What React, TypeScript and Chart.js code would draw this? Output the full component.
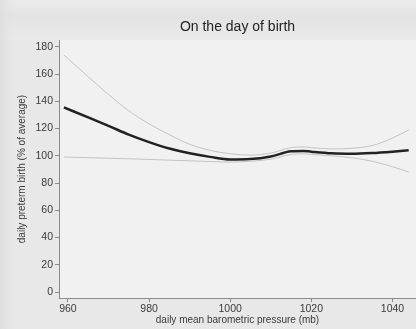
import React, { useEffect, useRef } from "react";
import { Chart, registerables } from "chart.js";

Chart.register(...registerables);

const pressure = [959, 965, 970, 975, 980, 985, 990, 995, 1000, 1005, 1010, 1015, 1018, 1020, 1025, 1030, 1035, 1040, 1044];
const estimate = [135.5, 128.2, 122, 115.5, 110, 105.3, 101.8, 99.2, 97.3, 97.6, 99.5, 103.3, 103.6, 103, 101.8, 101.5, 102, 103, 104];
const upperCI = [174, 158, 145, 133, 123.5, 115.5, 108.5, 104, 101.5, 100.5, 102, 106, 106.5, 106, 105, 105.5, 107.5, 113, 119];
const lowerCI = [99.1, 98.6, 98.2, 97.8, 97.3, 96.8, 96.3, 95.8, 95.4, 96, 97.5, 101, 101.5, 101, 100, 98.5, 96, 92, 88];
const xTicks = [960, 980, 1000, 1020, 1040];
const yTicks = [0, 20, 40, 60, 80, 100, 120, 140, 160, 180];
const titleText = "On the day of birth";
const xTitle = "daily mean barometric pressure (mb)";
const yTitle = "daily preterm birth (% of average)";

const FONT = "'Liberation Sans', Arial, sans-serif";

export default function App() {
  const ref = useRef<HTMLCanvasElement | null>(null);
  useEffect(() => {
    document.body.style.margin = "0";
    const canvas = ref.current!;
    const toPts = (ys: number[]) => pressure.map((x, i) => ({ x, y: ys[i] }));
    const bgPlugin = {
      id: "bg",
      beforeDraw(chart: any) {
        const { ctx, chartArea } = chart;
        ctx.save();
        ctx.fillStyle = "#e8e8e8";
        ctx.fillRect(0, 0, chart.width, chart.height);
        const g = ctx.createLinearGradient(0, 0, 0, 40);
        g.addColorStop(0, "#ececec");
        g.addColorStop(0.4, "#e3e3e3");
        g.addColorStop(1, "#eaeaea");
        ctx.fillStyle = g;
        ctx.fillRect(0, 0, chart.width, 40);
        const g2 = ctx.createLinearGradient(0, 0, 18, 0);
        g2.addColorStop(0, "#dedede");
        g2.addColorStop(1, "rgba(232,232,232,0)");
        ctx.fillStyle = g2;
        ctx.fillRect(0, 0, 18, chart.height);
        ctx.fillStyle = "#f1f1f1";
        ctx.fillRect(chartArea.left, chartArea.top, chartArea.right - chartArea.left, chartArea.bottom - chartArea.top);
        ctx.restore();
      },
      afterDraw(chart: any) {
        const { ctx, chartArea } = chart;
        ctx.save();
        ctx.fillStyle = "#222";
        ctx.font = `14px ${FONT}`;
        ctx.textAlign = "center";
        ctx.textBaseline = "middle";
        ctx.fillText(titleText, (chartArea.left + chartArea.right) / 2, 27);
        ctx.restore();
      },
    };
    const line = (ys: number[], color: string, width: number) => ({
      data: toPts(ys),
      borderColor: color,
      borderWidth: width,
      pointRadius: 0,
      cubicInterpolationMode: "monotone" as const,
      fill: false,
    });
    const chart = new Chart(canvas, {
      type: "line",
      data: {
        datasets: [
          line(upperCI, "#c4c4c4", 1),
          line(lowerCI, "#c4c4c4", 1),
          line(estimate, "#222222", 2.5),
        ],
      },
      options: {
        animation: false,
        responsive: false,
        layout: { padding: { left: 0, right: 0, top: 40, bottom: 0 } },
        plugins: { legend: { display: false }, tooltip: { enabled: false } },
        scales: {
          x: {
            type: "linear",
            min: 957.8,
            max: 1045.8,
            afterBuildTicks: (s: any) => { s.ticks = xTicks.map((v) => ({ value: v })); },
            afterFit: (s: any) => { s.height = 31; },
            grid: { display: true, drawOnChartArea: false, tickLength: 4, color: "#8a8a8a" },
            border: { color: "#8a8a8a", width: 1 },
            ticks: { color: "#3a3a3a", font: { family: FONT, size: 10.5 }, padding: 1, maxRotation: 0, autoSkip: false, callback: (v: any) => String(v) },
            title: { display: true, text: xTitle, color: "#3a3a3a", font: { family: FONT, size: 10 }, padding: { top: 0, bottom: 2.5 } },
          },
          y: {
            type: "linear",
            min: -4.4,
            max: 185,
            afterBuildTicks: (s: any) => { s.ticks = yTicks.map((v) => ({ value: v })); },
            afterFit: (s: any) => { s.width = 59; },
            grid: { display: true, drawOnChartArea: false, tickLength: 4, color: "#8a8a8a" },
            border: { color: "#8a8a8a", width: 1 },
            ticks: { color: "#3a3a3a", font: { family: FONT, size: 10.5 }, padding: 2, autoSkip: false, callback: (v: any) => String(v) },
            title: { display: true, text: yTitle, color: "#3a3a3a", font: { family: FONT, size: 10 }, padding: { top: 16.5, bottom: 2 } },
          },
        },
      },
      plugins: [bgPlugin],
    });
    return () => chart.destroy();
  }, []);
  return (
    <div style={{ position: "absolute", left: 0, top: 0, width: 416, height: 329 }}>
      <canvas ref={ref} width={416} height={329} style={{ display: "block", width: 416, height: 329 }} />
    </div>
  );
}
